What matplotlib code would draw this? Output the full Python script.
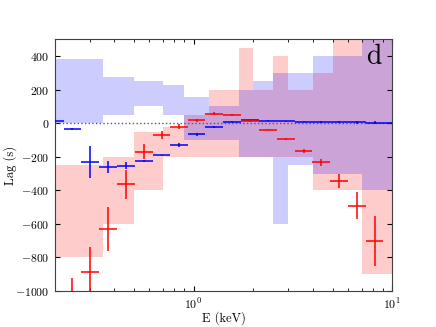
import numpy as np
import matplotlib
matplotlib.use('Agg')
import matplotlib.pyplot as plt
from matplotlib.ticker import MultipleLocator

plt.rcParams['font.family'] = 'cmr10'
plt.rcParams['mathtext.fontset'] = 'cm'
plt.rcParams['axes.formatter.use_mathtext'] = True

# shaded bands (step regions), bin edges in keV
band_edges = [0.2, 0.35, 0.5, 0.7, 0.9, 1.2, 1.7, 2.0, 2.5, 3.0, 4.0, 5.0, 7.0, 10.0]
blue_band_lo = [0, 50, 100, 50, -100, -100, -200, -200, -600, -250, -300, -300, -400]
blue_band_hi = [380, 275, 250, 225, 155, 100, 200, 250, 300, 300, 400, 400, 520]
red_band_lo = [-800, -600, -400, -200, -200, -200, -200, -200, -200, -200, -400, -400, -900]
red_band_hi = [-250, -200, -50, -20, 50, 200, 450, 200, 400, 200, 300, 520, 520]

# data points: energy bins (keV)
blue_e_lo = [0.181, 0.222, 0.273, 0.336, 0.412, 0.505, 0.625, 0.764, 0.937, 1.145,
             1.415, 1.737, 2.138, 2.634, 3.232, 3.963, 4.864, 6.01, 7.38, 9.01]
blue_e_hi = [0.222, 0.273, 0.336, 0.412, 0.505, 0.625, 0.764, 0.937, 1.145, 1.415,
             1.737, 2.138, 2.634, 3.232, 3.963, 4.864, 6.01, 7.38, 9.01, 11.04]
blue_lag = [10, -33, -232, -260, -254, -224, -191, -130, -67, -22,
            8, 17, 15, 11, 9, 7, 5, 4, 2, 0]
blue_err = [5, 5, 95, 35, 20, 5, 4, 10, 10, 4,
            3, 4, 4, 4, 4, 4, 5, 8, 8, 5]

red_e_lo = [0.222, 0.273, 0.336, 0.412, 0.505, 0.625, 0.764, 0.937, 1.145,
            1.415, 1.737, 2.138, 2.634, 3.232, 3.963, 4.864, 6.01, 7.38]
red_e_hi = [0.273, 0.336, 0.412, 0.505, 0.625, 0.764, 0.937, 1.145, 1.415,
            1.737, 2.138, 2.634, 3.232, 3.963, 4.864, 6.01, 7.38, 9.01]
red_lag = [-1100, -886, -631, -365, -170, -71, -21, 17, 57,
           49, 14, -38, -94, -165, -234, -344, -492, -702]
red_err = [180, 150, 132, 87, 45, 22, 15, 10, 10,
           5, 5, 5, 6, 14, 22, 40, 80, 150]

fig = plt.figure(figsize=(4.36, 3.27), dpi=100)
ax = fig.add_subplot(111)

edges = np.array(band_edges)
def step_vals(v):
    v = np.asarray(v, float)
    return np.append(v, v[-1])

ax.fill_between(edges, step_vals(red_band_lo), step_vals(red_band_hi), step='post',
                color='red', alpha=0.2, lw=0, zorder=1)
ax.fill_between(edges, step_vals(blue_band_lo), step_vals(blue_band_hi), step='post',
                color='blue', alpha=0.2, lw=0, zorder=1)

ax.axhline(0, color='0.35', ls=':', lw=1.0, zorder=2)

for lo, hi, lag, err, col in [(blue_e_lo, blue_e_hi, blue_lag, blue_err, 'blue'),
                              (red_e_lo, red_e_hi, red_lag, red_err, 'red')]:
    lo = np.array(lo); hi = np.array(hi)
    x = np.sqrt(lo * hi)
    ax.errorbar(x, lag, xerr=[x - lo, hi - x], yerr=err, fmt='none',
                ecolor=col, elinewidth=1.1, capsize=0, zorder=3)

ax.set_xscale('log')
ax.set_xlim(0.2, 10)
ax.set_ylim(-1000, 500)
ax.yaxis.set_major_locator(MultipleLocator(200))
ax.tick_params(which='both', direction='in', top=True, right=True, labelsize=8.5)
ax.tick_params(which='major', length=3.5, width=0.8)
ax.tick_params(which='minor', length=2, width=0.6)
ax.tick_params(axis='x', which='major', pad=4)
for s in ax.spines.values():
    s.set_color('0.25')

ax.set_xlabel('E (keV)', fontsize=9, labelpad=0)
ax.set_ylabel('Lag (s)', fontsize=9, labelpad=-1)
ax.text(0.945, 0.93, 'd', transform=ax.transAxes, fontsize=20, ha='center', va='center')

fig.savefig('out.png', dpi=100)
